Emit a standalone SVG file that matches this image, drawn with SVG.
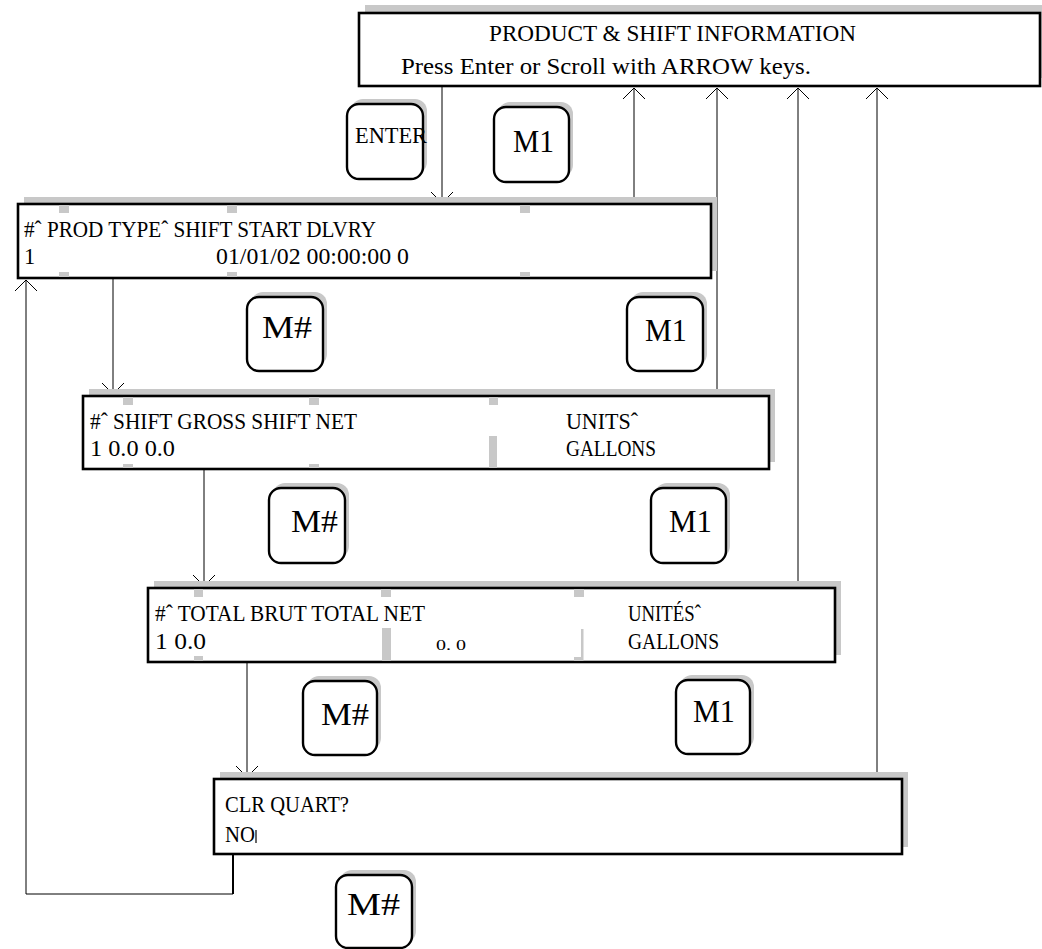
<svg xmlns="http://www.w3.org/2000/svg" width="1042" height="949" viewBox="0 0 1042 949">
<style>
.shadow{fill:#c8c8c8}
.box{fill:#fff;stroke:#000;stroke-width:2.6}
.btn{fill:#fff;stroke:#000;stroke-width:2.4}
.tick{fill:#c8c8c8}
.t{font-family:"Liberation Serif","Times New Roman",serif;font-size:22.5px;fill:#000}
.tt{font-family:"Liberation Serif","Times New Roman",serif;font-size:23px;fill:#000}
.bt{font-family:"Liberation Serif","Times New Roman",serif;font-size:31px;fill:#000}
.et{font-family:"Liberation Serif","Times New Roman",serif;font-size:24px;fill:#000}
.sm{font-family:"Liberation Serif","Times New Roman",serif;font-size:15px;fill:#000}
.ln{fill:none;stroke:#000;stroke-width:1}
</style>
<defs>
<marker id="ah" markerWidth="24" markerHeight="24" refX="12" refY="12" orient="auto" markerUnits="userSpaceOnUse" viewBox="0 0 24 24">
<path d="M1,1 L12,12 L1,23" fill="none" stroke="#000" stroke-width="1"/>
</marker>
</defs>
<rect width="1042" height="949" fill="#fff"/>

<g id="connectors">
<line class="ln" x1="442" y1="87" x2="442" y2="203" marker-end="url(#ah)"/>
<line class="ln" x1="634" y1="204" x2="634" y2="88" marker-end="url(#ah)"/>
<line class="ln" x1="717" y1="396" x2="717" y2="88" marker-end="url(#ah)"/>
<line class="ln" x1="798" y1="588" x2="798" y2="88" marker-end="url(#ah)"/>
<line class="ln" x1="877" y1="779" x2="877" y2="88" marker-end="url(#ah)"/>
<line class="ln" x1="113" y1="279" x2="113" y2="394" marker-end="url(#ah)"/>
<line class="ln" x1="204" y1="470" x2="204" y2="586" marker-end="url(#ah)"/>
<line class="ln" x1="247" y1="663" x2="247" y2="777" marker-end="url(#ah)"/>
<path class="ln" d="M233,855 L233,894 L26,894 L26,280" marker-end="url(#ah)"/>
<line x1="233" y1="855" x2="233" y2="894" stroke="#000" stroke-width="2"/>
</g>

<g id="header">
<rect class="shadow" x="365" y="5" width="682" height="73"/>
<rect class="box" x="359" y="13" width="681" height="73"/>
<text class="tt" x="489" y="41" textLength="367" lengthAdjust="spacingAndGlyphs">PRODUCT &amp; SHIFT INFORMATION</text>
<text class="tt" x="401" y="74" textLength="410" lengthAdjust="spacingAndGlyphs">Press Enter or Scroll with ARROW keys.</text>
</g>

<g id="btn-enter">
<rect class="shadow" x="351" y="99" width="76" height="75" rx="12"/>
<rect class="btn" x="347" y="104" width="76" height="75" rx="12"/>
<text class="et" x="355" y="143" textLength="72" lengthAdjust="spacingAndGlyphs">ENTER</text>
</g>

<g id="btn-m1-top">
<rect class="shadow" x="498" y="102" width="75" height="75" rx="12"/>
<rect class="btn" x="494" y="107" width="75" height="75" rx="12"/>
<text class="bt" x="513" y="152" font-size="33" textLength="41" lengthAdjust="spacingAndGlyphs">M1</text>
</g>

<g id="screen-1">
<rect class="shadow" x="24" y="197" width="693" height="74"/>
<rect class="box" x="18" y="204" width="693" height="74"/>
<rect class="tick" x="59" y="205" width="10" height="8"/>
<rect class="tick" x="227" y="205" width="10" height="8"/>
<rect class="tick" x="520" y="205" width="10" height="8"/>
<rect class="tick" x="59" y="272" width="10" height="5"/>
<rect class="tick" x="227" y="272" width="10" height="5"/>
<rect class="tick" x="520" y="272" width="10" height="5"/>
<text class="t" x="24" y="237" textLength="352" lengthAdjust="spacingAndGlyphs">#ˆ PROD TYPEˆ SHIFT START DLVRY</text>
<text class="t" x="24" y="264">1</text>
<text class="t" x="216" y="264" textLength="193" lengthAdjust="spacingAndGlyphs">01/01/02 00:00:00 0</text>
</g>

<g id="btn-m-hash-1">
<rect class="shadow" x="251" y="292" width="76" height="74" rx="12"/>
<rect class="btn" x="247" y="297" width="76" height="74" rx="12"/>
<text class="bt" x="262" y="338" textLength="50" lengthAdjust="spacingAndGlyphs">M#</text>
</g>

<g id="btn-m1-1">
<rect class="shadow" x="631" y="292" width="76" height="74" rx="12"/>
<rect class="btn" x="627" y="297" width="76" height="74" rx="12"/>
<text class="bt" x="645" y="341" textLength="42" lengthAdjust="spacingAndGlyphs">M1</text>
</g>

<g id="screen-2">
<rect class="shadow" x="89" y="389" width="686" height="73"/>
<rect class="box" x="83" y="396" width="686" height="73"/>
<rect class="tick" x="123" y="397" width="10" height="8"/>
<rect class="tick" x="309" y="397" width="10" height="8"/>
<rect class="tick" x="489" y="397" width="9" height="8"/>
<rect class="tick" x="123" y="464" width="10" height="4"/>
<rect class="tick" x="309" y="464" width="10" height="4"/>
<rect class="tick" x="489" y="436" width="8" height="32"/>
<text class="t" x="90" y="429" textLength="267" lengthAdjust="spacingAndGlyphs">#ˆ SHIFT GROSS SHIFT NET</text>
<text class="t" x="90" y="456" textLength="85" lengthAdjust="spacingAndGlyphs">1 0.0 0.0</text>
<text class="t" x="566" y="429" textLength="72" lengthAdjust="spacingAndGlyphs">UNITSˆ</text>
<text class="t" x="566" y="456" textLength="90" lengthAdjust="spacingAndGlyphs">GALLONS</text>
</g>

<g id="btn-m-hash-2">
<rect class="shadow" x="273" y="483" width="76" height="75" rx="12"/>
<rect class="btn" x="269" y="488" width="76" height="75" rx="12"/>
<text class="bt" x="291" y="532" textLength="47" lengthAdjust="spacingAndGlyphs">M#</text>
</g>

<g id="btn-m1-2">
<rect class="shadow" x="655" y="483" width="75" height="75" rx="12"/>
<rect class="btn" x="651" y="488" width="75" height="75" rx="12"/>
<text class="bt" x="669" y="532" textLength="43" lengthAdjust="spacingAndGlyphs">M1</text>
</g>

<g id="screen-3">
<rect class="shadow" x="154" y="581" width="687" height="74"/>
<rect class="box" x="148" y="588" width="687" height="74"/>
<rect class="tick" x="194" y="589" width="9" height="8"/>
<rect class="tick" x="381" y="589" width="10" height="8"/>
<rect class="tick" x="574" y="589" width="10" height="8"/>
<rect class="tick" x="194" y="656" width="9" height="5"/>
<rect class="tick" x="382" y="628" width="9" height="33"/>
<rect class="tick" x="581" y="629" width="2.5" height="32"/>
<rect class="tick" x="574" y="657" width="9" height="4"/>
<text class="t" x="155" y="621" textLength="270" lengthAdjust="spacingAndGlyphs">#ˆ TOTAL BRUT TOTAL NET</text>
<text class="t" x="155" y="649" textLength="51" lengthAdjust="spacingAndGlyphs">1 0.0</text>
<text class="sm" x="436" y="650" textLength="30" lengthAdjust="spacingAndGlyphs">0. 0</text>
<text class="t" x="628" y="621" textLength="73" lengthAdjust="spacingAndGlyphs">UNITÉSˆ</text>
<text class="t" x="628" y="649" textLength="91" lengthAdjust="spacingAndGlyphs">GALLONS</text>
</g>

<g id="btn-m-hash-3">
<rect class="shadow" x="307" y="676" width="74" height="74" rx="12"/>
<rect class="btn" x="303" y="681" width="74" height="74" rx="12"/>
<text class="bt" x="321" y="725" textLength="48" lengthAdjust="spacingAndGlyphs">M#</text>
</g>

<g id="btn-m1-3">
<rect class="shadow" x="680" y="675" width="74" height="74" rx="12"/>
<rect class="btn" x="676" y="680" width="74" height="74" rx="12"/>
<text class="bt" x="693" y="722" textLength="42" lengthAdjust="spacingAndGlyphs">M1</text>
</g>

<g id="screen-4">
<rect class="shadow" x="220" y="772" width="688" height="75"/>
<rect class="box" x="214" y="779" width="688" height="75"/>
<text class="t" x="225" y="812" textLength="124" lengthAdjust="spacingAndGlyphs">CLR QUART?</text>
<text class="t" x="225" y="842" textLength="30" lengthAdjust="spacingAndGlyphs">NO</text>
<line x1="256" y1="830" x2="256" y2="843" stroke="#000" stroke-width="1.2"/>
</g>

<g id="btn-m-hash-4">
<rect class="shadow" x="340" y="870" width="76" height="73" rx="12"/>
<rect class="btn" x="336" y="875" width="76" height="73" rx="12"/>
<text class="bt" x="347" y="915" textLength="53" lengthAdjust="spacingAndGlyphs">M#</text>
</g>
</svg>
